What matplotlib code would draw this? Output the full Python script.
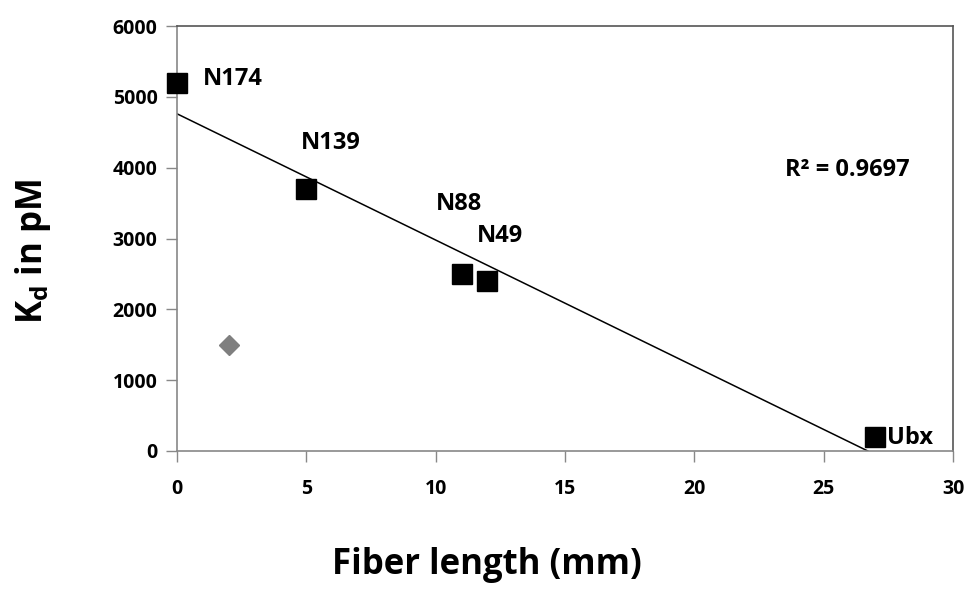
import matplotlib
matplotlib.use("Agg")
import matplotlib.pyplot as plt
import numpy as np

plt.rcParams['font.family'] = ['Open Sans', 'DejaVu Sans']

# Data
names = ["N174", "N139", "N88", "N49", "Ubx"]
fiber_len = [0, 5, 11, 12, 27]
kd = [5200, 3700, 2500, 2400, 200]
extra_x = [2]
extra_y = [1500]
label_pos = [(1.0, 5250), (5.95, 4350), (10.9, 3480), (12.5, 3030), (27.45, 190)]
label_ha = ["left", "center", "center", "center", "left"]
r2_text = "R² = 0.9697"
xticks = [0, 5, 10, 15, 20, 25, 30]
yticks = [0, 1000, 2000, 3000, 4000, 5000, 6000]

fig = plt.figure(figsize=(9.71, 5.93), dpi=100)
ax = fig.add_axes([177/971, 1-451/593, (953-177)/971, (451-26)/593])

ax.plot(fiber_len, kd, 's', color='black', markersize=14, zorder=3, clip_on=False)
ax.plot(extra_x, extra_y, 'D', color='#7f7f7f', markersize=10.5, zorder=3, clip_on=False)

# linear trendline
slope, intercept = np.polyfit(fiber_len, kd, 1)
x0 = -intercept / slope
xs = np.array([0, x0])
ax.plot(xs, slope * xs + intercept, color='black', lw=1.1, zorder=2)

for n, (lx, ly), ha in zip(names, label_pos, label_ha):
    ax.text(lx, ly, n, ha=ha, va='center', fontsize=17, fontweight='bold')
ax.text(25.9, 3960, r2_text, ha='center', va='center', fontsize=17, fontweight='bold')

ax.set_xlim(0, 30)
ax.set_ylim(0, 6000)
ax.set_xticks(xticks)
ax.set_yticks(yticks)
ax.tick_params(axis='both', direction='out', length=8, width=1, color='#888888',
               labelsize=14, pad=6)
for lab in ax.get_xticklabels() + ax.get_yticklabels():
    lab.set_fontweight('bold')
ax.tick_params(axis='x', pad=12)
for s in ax.spines.values():
    s.set_color('#888888')
    s.set_linewidth(1.2)
ax.spines['top'].set_color('#555555')
ax.spines['right'].set_color('#555555')

fig.text(487/971, 1 - 565/593, "Fiber length (mm)", ha='center', va='center',
         fontsize=25, fontweight='bold')
fig.text(33/971, 1 - 252/593, r"K$_\mathregular{d}$ in pM", rotation=90, ha='center', va='center',
         fontsize=25, fontweight='bold')

fig.savefig("out.png", dpi=100)
